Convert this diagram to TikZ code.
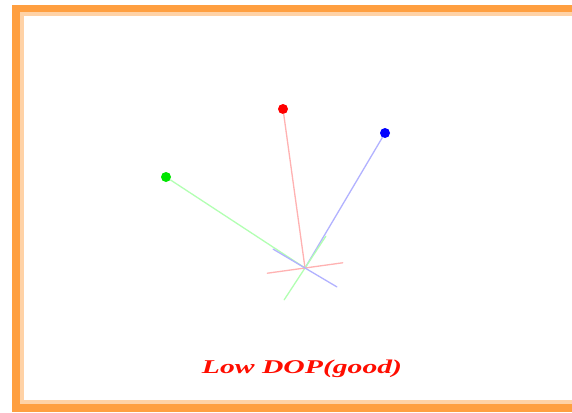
\documentclass[tikz,border=0pt]{standalone}
\usepackage{fontspec}
\setmainfont{Liberation Serif}
\usetikzlibrary{calc}

\tikzset{
  sat/.style={circle, fill=#1, inner sep=0pt, minimum size=10pt},
  ray/.style={line width=1.3pt, line cap=round},
}

\begin{document}
\begin{tikzpicture}[x=1pt, y=-1pt]
            \useasboundingbox (0,0) rectangle (572,412);
            \fill[white] (0,0) rectangle (572,412);

            % frame
            \draw[orange!75, line width=8pt] (16,9) rectangle (620,407.5);
            \draw[orange!35, line width=4pt] (22,14) rectangle (620,402);

            % satellites and receiver
            \node[sat=green!90!black!100] (satG) at (166,177) {};
            \node[sat=red] (satR) at (283,109) {};
            \node[sat=blue] (satB) at (385,133) {};
            \coordinate (rx) at (305,268);

            \draw[ray, green!30] (satG) -- (rx);
            \draw[ray, red!30] (satR) -- (rx);
            \draw[ray, blue!30] (satB) -- (rx);

            % crossing bars
            \coordinate (gA) at ($(rx)!38pt!90:(satG)$);
            \coordinate (gB) at ($(rx)!38pt!-90:(satG)$);
            \coordinate (rA) at ($(rx)!38pt!90:(satR)$);
            \coordinate (rB) at ($(rx)!38pt!-90:(satR)$);
            \coordinate (bA) at ($(rx)!37pt!90:(satB)$);
            \coordinate (bB) at ($(rx)!37pt!-90:(satB)$);
            \draw[ray, green!30] (gA) -- (gB);
            \draw[ray, red!30] (rA) -- (rB);
            \draw[ray, blue!30] (bA) -- (bB);

            \node[font=\fontsize{19.5}{22}\selectfont\bfseries\itshape, text=red!90!orange] (lbl) at (302,369) {\scalebox{1.52}[1]{Low DOP(good)}};
        \end{tikzpicture}
\end{document}
